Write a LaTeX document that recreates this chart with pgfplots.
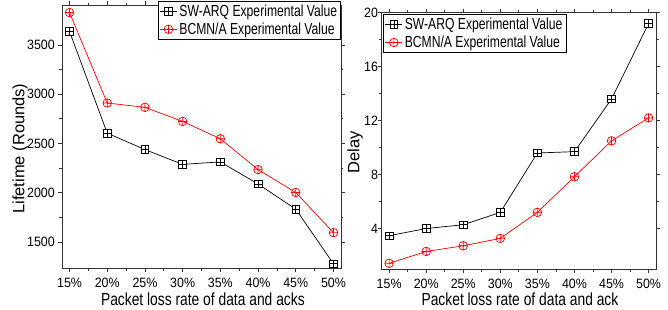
\documentclass[border=0pt]{standalone}
\usepackage{fontspec}
\setmainfont{Liberation Sans}
\newfontfamily\tickfont{Liberation Sans}[FakeStretch=0.92]
\newfontfamily\labfont{Liberation Sans}[FakeStretch=0.79]
\newfontfamily\legfont{Liberation Sans}[FakeStretch=0.76]
\usepackage{pgfplots}
\pgfplotsset{compat=1.18}
\pgfdeclareplotmark{boxplus}{%
 \pgfpathrectangle{\pgfqpoint{-\pgfplotmarksize}{-\pgfplotmarksize}}{\pgfqpoint{2\pgfplotmarksize}{2\pgfplotmarksize}}%
 \pgfusepathqfillstroke
 \pgfpathmoveto{\pgfqpoint{-\pgfplotmarksize}{0pt}}\pgfpathlineto{\pgfqpoint{\pgfplotmarksize}{0pt}}%
 \pgfpathmoveto{\pgfqpoint{0pt}{-\pgfplotmarksize}}\pgfpathlineto{\pgfqpoint{0pt}{\pgfplotmarksize}}%
 \pgfusepathqstroke}
\pgfplotsset{
 common/.style={
  scale only axis,
  /pgf/number format/assume math mode=true,
  /pgf/number format/1000 sep={},
  xmin=-0.2, xmax=7.2,
  xtick={0,1,2,3,4,5,6,7},
  xticklabels={15\%,20\%,25\%,30\%,35\%,40\%,45\%,50\%},
  minor x tick num=1,
  minor y tick num=1,
  tick align=outside,
  major tick length=4pt,
  minor tick length=2.5pt,
  axis line style={line width=0.9pt, black!80},
  every tick/.style={black!80, line width=0.8pt},
  tick label style={font=\tickfont\fontsize{13.5}{14}\selectfont, inner sep=0.5pt},
  xticklabel style={yshift=-5.5pt},
  xlabel style={font=\labfont\fontsize{17.5}{19}\selectfont, anchor=base},
  ylabel style={font=\fontsize{16.5}{18}\selectfont, anchor=center, rotate=0},
  legend style={font=\legfont\fontsize{16}{18}\selectfont, draw=black, line width=0.8pt, inner sep=1.5pt, row sep=1pt, cells={anchor=west}},
  legend cell align=left,
 },
 sw/.style={black, line width=0.7pt, mark=boxplus, mark size=3.8pt, mark options={fill=white, line width=0.7pt}},
 bc/.style={red, line width=0.7pt, mark=oplus, mark size=4.3pt, mark options={fill=white, line width=0.7pt}},
}
\begin{document}
\begin{tikzpicture}
\useasboundingbox (0,0) rectangle (668pt,309pt);
\begin{axis}[common,
  at={(62pt,41pt)}, anchor=south west,
  width=279pt, height=263pt,
  ymin=1236, ymax=3906,
  ytick={1500,2000,2500,3000,3500},
  yticklabel style={xshift=-2.5pt},
  xlabel={Packet loss rate of data and acks},
  ylabel={Lifetime (Rounds)},
  xlabel style={at={(axis description cs:0.505,-0.143)}},
  ylabel style={at={(axis description cs:-0.15,0.454)}},
  legend style={at={(axis description cs:1,1.016)}, anchor=north east},
]
\addplot[sw] coordinates {(0,3636) (1,2605) (2,2438) (3,2288) (4,2313) (5,2089) (6,1834) (7,1279)};
\addlegendentry{SW-ARQ Experimental Value}
\addplot[bc] coordinates {(0,3829) (1,2911) (2,2867) (3,2724) (4,2548) (5,2235) (6,2003) (7,1595)};
\addlegendentry{BCMN/A Experimental Value}
\end{axis}
\begin{axis}[common,
  at={(381.7pt,40pt)}, anchor=south west,
  width=274.3pt, height=256.3pt,
  ymin=1, ymax=20,
  ytick={4,8,12,16,20},
  yticklabel style={xshift=1pt},
  xlabel={Packet loss rate of data and ack},
  ylabel={Delay},
  xlabel style={at={(axis description cs:0.504,-0.143)}},
  ylabel style={at={(axis description cs:-0.097,0.456)}},
  legend style={at={(axis description cs:0.005,0.995)}, anchor=north west},
]
\addplot[sw] coordinates {(0,3.47) (1,4.0) (2,4.28) (3,5.2) (4,9.6) (5,9.7) (6,13.6) (7,19.2)};
\addlegendentry{SW-ARQ Experimental Value}
\addplot[bc] coordinates {(0,1.42) (1,2.3) (2,2.72) (3,3.27) (4,5.2) (5,7.84) (6,10.5) (7,12.2)};
\addlegendentry{BCMN/A Experimental Value}
\end{axis}
\end{tikzpicture}
\end{document}
